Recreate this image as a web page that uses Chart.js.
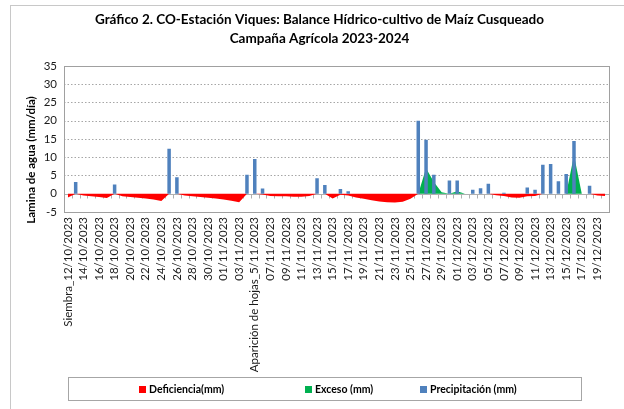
<!DOCTYPE html>
<html>
<head>
<meta charset="utf-8">
<script src="https://cdn.jsdelivr.net/npm/chart.js@4.4.0/dist/chart.umd.min.js"></script>
<style>
  body { margin: 0; background: #fff; }
  #wrap { position: relative; width: 624px; height: 409px; overflow: hidden; }
  #frame { position: absolute; left: 10px; top: 5px; right: -2px; bottom: -2px; border-left: 1px solid #c8c8c8; border-top: 1px solid #c8c8c8; pointer-events: none; }
  #legend { position: absolute; left: 68px; top: 377px; width: 514px; height: 24px; border: 1px solid #a6a6a6; box-sizing: border-box;
            font: bold 10.5px Lato, sans-serif; color: #000; }
  #legend span { position: absolute; top: 5px; white-space: nowrap; }
  #legend i { display: inline-block; width: 7px; height: 7px; margin-right: 3px; vertical-align: 0px; }
</style>
</head>
<body>
<div id="wrap">
  <canvas id="chart" width="624" height="409"></canvas>
  <div id="frame"></div>
  <div id="legend"></div>
</div>
<script>
// dias desde la siembra (12/10/2023) hasta el 20/12/2023
const categories = [
  'Siembra_12/10/2023', '13/10/2023', '14/10/2023', '15/10/2023', '16/10/2023', '17/10/2023', '18/10/2023', '19/10/2023',
  '20/10/2023', '21/10/2023', '22/10/2023', '23/10/2023', '24/10/2023', '25/10/2023', '26/10/2023', '27/10/2023',
  '28/10/2023', '29/10/2023', '30/10/2023', '31/10/2023', '01/11/2023', '02/11/2023', '03/11/2023', '04/11/2023',
  'Aparición de hojas_5/11/2023', '06/11/2023', '07/11/2023', '08/11/2023', '09/11/2023', '10/11/2023', '11/11/2023', '12/11/2023',
  '13/11/2023', '14/11/2023', '15/11/2023', '16/11/2023', '17/11/2023', '18/11/2023', '19/11/2023', '20/11/2023',
  '21/11/2023', '22/11/2023', '23/11/2023', '24/11/2023', '25/11/2023', '26/11/2023', '27/11/2023', '28/11/2023',
  '29/11/2023', '30/11/2023', '01/12/2023', '02/12/2023', '03/12/2023', '04/12/2023', '05/12/2023', '06/12/2023',
  '07/12/2023', '08/12/2023', '09/12/2023', '10/12/2023', '11/12/2023', '12/12/2023', '13/12/2023', '14/12/2023',
  '15/12/2023', '16/12/2023', '17/12/2023', '18/12/2023', '19/12/2023', '20/12/2023'
];

const deficiencia = [
  -1.0, 0, -0.5, -0.7, -0.9, -1.2, 0, -0.7, -0.9, -1.1,
  -1.3, -1.6, -2.0, 0, 0, -0.5, -0.7, -0.9, -1.1, -1.3,
  -1.6, -1.9, -2.3, 0, 0, -0.2, -0.6, -0.7, -0.7, -0.8,
  -0.8, -0.6, 0, 0, -1.3, -0.3, -0.5, -1.0, -1.4, -1.8,
  -2.1, -2.3, -2.4, -2.2, -1.4, 0, 0, 0, 0, 0,
  0, 0, 0, 0, 0, -0.4, -0.6, -1.0, -1.1, -0.7,
  -0.6, 0, 0, 0, 0, 0, 0, 0, -0.5, -0.6
];

const exceso = [
  0, 0, 0, 0, 0, 0, 0, 0, 0, 0,
  0, 0, 0, 0, 0, 0, 0, 0, 0, 0,
  0, 0, 0, 0, 0, 0, 0, 0, 0, 0,
  0, 0, 0, 0, 0, 0, 0, 0, 0, 0,
  0, 0, 0, 0, 0, 0, 7.0, 3.2, 0.4, 0,
  0.7, 0, 0, 0, 0, 0, 0, 0, 0, 0,
  0, 0, 0, 0, 0, 10.5, 0, 0, 0, 0
];

const precipitacion = [
  null, 3.2, null, null, null, null, 2.5, null, null, null,
  null, null, null, 12.3, 4.5, null, null, null, null, null,
  null, null, null, 5.2, 9.5, 1.4, null, null, null, null,
  null, null, 4.2, 2.4, null, 1.3, 0.7, null, null, null,
  null, null, null, null, null, 20.0, 14.8, 5.2, null, 3.6,
  3.6, null, 1.1, 1.5, 2.7, null, 0.3, null, null, 1.7,
  1.1, 7.9, 8.1, 3.4, 5.4, 14.4, null, 2.2, null, null
];

const yTicks = [-5, 0, 5, 10, 15, 20, 25, 30, 35];
const titleLines = ['Gráfico 2. CO-Estación Viques: Balance Hídrico-cultivo de Maíz Cusqueado', 'Campaña Agrícola 2023-2024'];
const yTitle = 'Lamina de agua (mm/día)';

const colors = { deficiencia: '#ff0000', exceso: '#00b050', precipitacion: '#4f81bd' };
const legendItems = [
  { text: 'Deficiencia(mm)', color: colors.deficiencia, left: 70 },
  { text: 'Exceso (mm)', color: colors.exceso, left: 236 },
  { text: 'Precipitación (mm)', color: colors.precipitacion, left: 351 }
];

const FONT = 'Lato, "Open Sans", sans-serif';

const plotDecor = {
  id: 'plotDecor',
  beforeDatasetsDraw(chart) {
    const { ctx, chartArea: a, scales: { x, y } } = chart;
    ctx.save();
    ctx.lineWidth = 1;
    ctx.strokeStyle = '#a6a6a6';
    ctx.setLineDash([1.5, 2]);
    yTicks.filter(v => v > 0 && v < 35).forEach(v => {
      const py = Math.round(y.getPixelForValue(v)) + 0.5;
      ctx.beginPath();
      ctx.moveTo(a.left, py);
      ctx.lineTo(a.right, py);
      ctx.stroke();
    });
    ctx.setLineDash([]);
    // eje de categorias sobre el cero
    const y0 = Math.round(y.getPixelForValue(0)) + 0.5;
    const step = x.getPixelForValue(1) - x.getPixelForValue(0);
    ctx.strokeStyle = '#b0b0b0';
    ctx.beginPath();
    ctx.moveTo(a.left, y0);
    ctx.lineTo(a.right, y0);
    for (let i = 0; i <= categories.length; i++) {
      const px = Math.round(x.getPixelForValue(i) - step / 2) + 0.5;
      ctx.moveTo(px, y0);
      ctx.lineTo(px, y0 + 4);
    }
    ctx.stroke();
    ctx.restore();
  },
  afterDraw(chart) {
    const { ctx, chartArea: a } = chart;
    ctx.save();
    ctx.strokeStyle = '#a0a0a0';
    ctx.lineWidth = 1;
    ctx.strokeRect(Math.round(a.left) + 0.5, Math.round(a.top) + 0.5, Math.round(a.right - a.left), Math.round(a.bottom - a.top));
    ctx.translate(31, 160);
    ctx.rotate(-Math.PI / 2);
    ctx.fillStyle = '#000';
    ctx.font = 'bold 11.5px ' + FONT;
    ctx.textAlign = 'center';
    ctx.textBaseline = 'middle';
    ctx.fillText(yTitle, 0, 0);
    ctx.restore();
  }
};

new Chart(document.getElementById('chart'), {
  type: 'bar',
  data: {
    labels: categories,
    datasets: [
      {
        label: 'Precipitación (mm)',
        data: precipitacion,
        backgroundColor: colors.precipitacion,
        barPercentage: 0.45,
        categoryPercentage: 1,
        order: 0
      },
      {
        type: 'line',
        label: 'Deficiencia(mm)',
        data: deficiencia,
        borderWidth: 0,
        borderColor: colors.deficiencia,
        backgroundColor: colors.deficiencia,
        pointRadius: 0,
        tension: 0,
        fill: 'origin',
        order: 1
      },
      {
        type: 'line',
        label: 'Exceso (mm)',
        data: exceso,
        borderWidth: 0,
        borderColor: colors.exceso,
        backgroundColor: colors.exceso,
        pointRadius: 0,
        tension: 0,
        fill: 'origin',
        order: 1
      }
    ]
  },
  options: {
    responsive: false,
    animation: false,
    devicePixelRatio: 1,
    layout: { padding: { left: 24, right: 9, top: 0, bottom: 0 } },
    plugins: {
      legend: { display: false },
      tooltip: { enabled: false },
      title: {
        display: true,
        text: titleLines,
        color: '#000',
        font: { family: FONT, size: 13.5, weight: 'bold', lineHeight: 1.4 },
        padding: { top: 10, bottom: 18 }
      }
    },
    scales: {
      x: {
        grid: { display: false, drawTicks: false },
        border: { display: false },
        ticks: {
          autoSkip: false,
          maxRotation: 90,
          minRotation: 90,
          padding: 5,
          color: '#1a1a1a',
          font: { family: FONT, size: 11.5 },
          callback: (v, i) => (i % 2 === 0 ? categories[i] : '')
        },
        afterFit: scale => { scale.height = 197; }
      },
      y: {
        min: -5,
        max: 35,
        grid: { display: false, drawTicks: false },
        border: { display: false },
        ticks: {
          stepSize: 5,
          padding: 7,
          color: '#1a1a1a',
          font: { family: FONT, size: 11.5 }
        },
        afterFit: scale => { scale.width = 40; }
      }
    }
  },
  plugins: [plotDecor]
});

const legendEl = document.getElementById('legend');
legendItems.forEach(item => {
  const s = document.createElement('span');
  s.style.left = item.left + 'px';
  const box = document.createElement('i');
  box.style.background = item.color;
  s.appendChild(box);
  s.appendChild(document.createTextNode(item.text));
  legendEl.appendChild(s);
});
</script>
</body>
</html>
